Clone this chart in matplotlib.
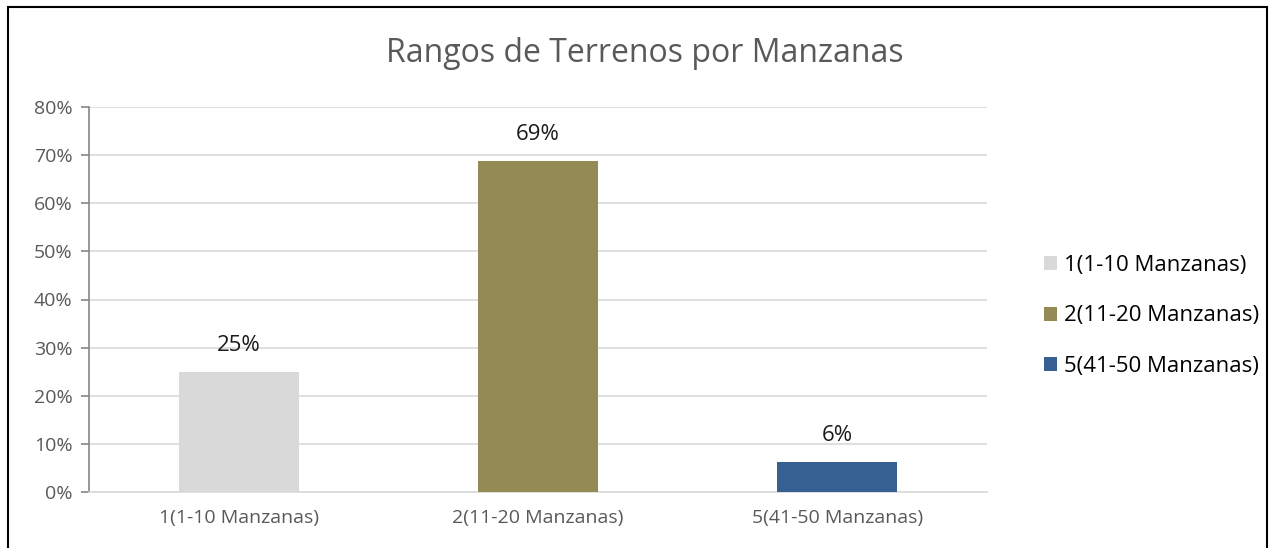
import matplotlib
matplotlib.use("Agg")
import matplotlib.pyplot as plt
from matplotlib.patches import Rectangle, Patch

categories = ["1(1-10 Manzanas)", "2(11-20 Manzanas)", "5(41-50 Manzanas)"]
values = [0.25, 0.6875, 0.0625]
labels = ["25%", "69%", "6%"]
colors = ["#D9D9D9", "#948A54", "#376092"]
yticks = [0, 0.1, 0.2, 0.3, 0.4, 0.5, 0.6, 0.7, 0.8]
ytick_labels = ["0%", "10%", "20%", "30%", "40%", "50%", "60%", "70%", "80%"]

plt.rcParams['font.family'] = ['Open Sans', 'DejaVu Sans']

W, H = 1274, 548
fig = plt.figure(figsize=(W/100, H/100), dpi=100)
ax = fig.add_axes([89/W, 1-492/H, (987-89)/W, (492-107)/H])

x = range(len(categories))
ax.bar(x, values, width=0.4, color=colors, zorder=3)
for xi, v, lab in zip(x, values, labels):
    ax.annotate(lab, (xi, v), xytext=(0, 19), textcoords="offset points",
                ha="center", va="center", fontsize=16, color="#1a1a1a")

ax.set_xlim(-0.5, 2.5)
ax.set_ylim(0, 0.8)
ax.set_yticks(yticks)
ax.set_yticklabels(ytick_labels, fontsize=14, color="#595959")
ax.set_xticks(list(x))
ax.set_xticklabels(categories, fontsize=14, color="#595959")
ax.tick_params(axis="x", length=0, pad=12)
ax.tick_params(axis="y", length=6, width=1.2, color="#868686", pad=6)
ax.grid(axis="y", color="#D9D9D9", linewidth=1.2, zorder=0)
for s in ["top", "right"]:
    ax.spines[s].set_visible(False)
ax.spines["bottom"].set_color("#D9D9D9")
ax.spines["bottom"].set_linewidth(1.2)
ax.spines["left"].set_color("#868686")
ax.spines["left"].set_linewidth(1.2)

fig.text(645/W, 1-54/H, "Rangos de Terrenos por Manzanas",
         ha="center", va="center", fontsize=23, color="#595959")

handles = [Patch(facecolor=c, edgecolor="none") for c in colors]
fig.legend(handles, categories, loc="center left", bbox_to_anchor=(1024/W, 1-316/H),
           frameon=False, fontsize=16, handlelength=0.6, handleheight=0.6,
           handletextpad=0.3, labelspacing=1.32, labelcolor="#000000")

fig.patches.append(Rectangle((8/W, -0.01), (1267-8)/W, 1-7/H+0.01, transform=fig.transFigure,
                             fill=False, edgecolor="black", linewidth=1.5))

fig.savefig("out.png", dpi=100)
